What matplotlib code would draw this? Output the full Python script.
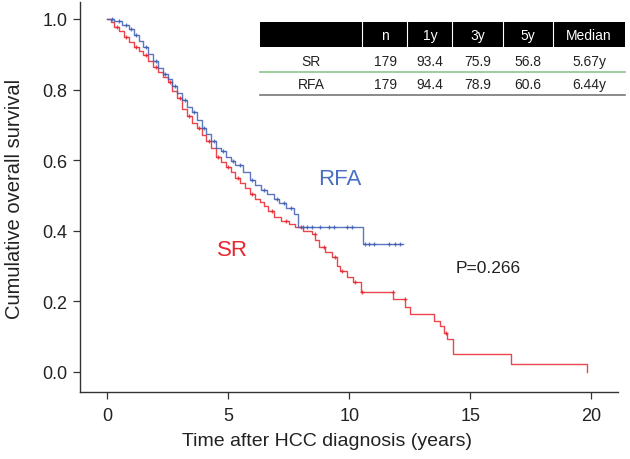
import numpy as np
import matplotlib
matplotlib.use("Agg")
import matplotlib.pyplot as plt
from matplotlib.patches import Rectangle
from matplotlib.lines import Line2D

plt.rcParams["font.family"] = ["Liberation Sans", "DejaVu Sans"]

# ------------------------------------------------------------------
# Data
# ------------------------------------------------------------------

# RFA: step times (years) and survival after each step
rfa_t = [0, 0.3, 0.6, 0.9, 1.1, 1.3, 1.5, 1.7, 1.9, 2.1, 2.3, 2.5, 2.7, 2.9, 3.1,
         3.3, 3.5, 3.7, 3.9, 4.1, 4.3, 4.5, 4.7, 4.9, 5.1, 5.3, 5.6, 5.9, 6.1, 6.35,
         6.6, 6.9, 7.1, 7.4, 7.7, 7.9, 10.55]
rfa_s = [1.0, 0.994, 0.983, 0.972, 0.955, 0.938, 0.921, 0.90, 0.88, 0.86, 0.845, 0.83,
         0.81, 0.79, 0.77, 0.75, 0.735, 0.715, 0.69, 0.675, 0.655, 0.635, 0.625, 0.61,
         0.598, 0.585, 0.565, 0.545, 0.53, 0.515, 0.505, 0.49, 0.478, 0.465, 0.448,
         0.411, 0.363]
rfa_end = 12.2
rfa_cens = [0.2, 0.5, 0.8, 1.0, 1.2, 1.6, 2.0, 2.4, 2.8, 3.2, 3.6, 4.0, 4.4, 4.8, 5.2,
            5.5, 6.0, 6.5, 7.0, 7.3, 7.6, 8.1, 8.24, 8.45, 8.78, 9.16, 9.37, 9.91,
            10.12, 10.66, 10.82, 11.03, 11.66, 11.87, 12.08]

# SR
sr_t = [0, 0.15, 0.3, 0.5, 0.7, 0.9, 1.1, 1.3, 1.5, 1.7, 1.9, 2.1, 2.3, 2.5, 2.7, 2.9,
        3.1, 3.3, 3.5, 3.7, 3.9, 4.1, 4.3, 4.5, 4.7, 4.9, 5.1, 5.3, 5.5, 5.7, 5.9,
        6.1, 6.3, 6.5, 6.65, 6.9, 7.2, 7.5, 7.75, 8.1, 8.45, 8.6, 8.75, 9.0, 9.3,
        9.5, 9.6, 9.9, 10.15, 10.5, 11.8, 12.3, 12.5, 13.5, 13.75, 13.9, 14.05,
        14.3, 16.7, 19.8]
sr_s = [1.0, 0.99, 0.977, 0.965, 0.95, 0.935, 0.921, 0.91, 0.898, 0.881, 0.865, 0.85,
        0.835, 0.82, 0.795, 0.775, 0.745, 0.725, 0.705, 0.69, 0.672, 0.655, 0.635,
        0.61, 0.595, 0.58, 0.565, 0.55, 0.535, 0.52, 0.505, 0.49, 0.48, 0.47, 0.455,
        0.44, 0.428, 0.418, 0.411, 0.40, 0.391, 0.375, 0.354, 0.34, 0.326, 0.30,
        0.286, 0.27, 0.255, 0.227, 0.207, 0.185, 0.164, 0.145, 0.13, 0.11, 0.093,
        0.051, 0.023, 0.0]
sr_end = 19.8
sr_cens = [0.4, 0.8, 1.2, 1.6, 2.0, 2.6, 3.0, 3.4, 3.8, 4.2, 4.6, 5.0, 5.4, 6.0, 6.8,
           7.4, 8.0, 8.58, 8.95, 9.41, 9.70, 10.25, 10.53, 11.79, 12.29, 14.0]

# summary table
col_labels = ["", "n", "1y", "3y", "5y", "Median"]
row_sr = ["SR", "179", "93.4", "75.9", "56.8", "5.67y"]
row_rfa = ["RFA", "179", "94.4", "78.9", "60.6", "6.44y"]

RED = "#E8262E"
BLUE = "#3F5FB5"


def step_val(ts, ss, x):
    i = np.searchsorted(np.asarray(ts), x, side="right") - 1
    return np.asarray(ss)[i]


# ------------------------------------------------------------------
# Plot
# ------------------------------------------------------------------

fig = plt.figure(figsize=(6.3, 4.6), dpi=100)
ax = fig.add_axes([80 / 630, 67 / 460, 538 / 630, 390 / 460])

for ts, ss, end, cens, col in [(sr_t, sr_s, sr_end, sr_cens, RED),
                               (rfa_t, rfa_s, rfa_end, rfa_cens, BLUE)]:
    xs = list(ts) + [end]
    ys = list(ss) + [ss[-1]]
    ax.step(xs, ys, where="post", color=col, lw=1.0, alpha=0.85)
    ax.plot(cens, step_val(ts, ss, cens), ls="none", marker="+", ms=3.5,
            mew=0.9, color=col, alpha=0.85)

ax.set_xlim(-1.12, 21.1)
ax.set_ylim(-0.057, 1.048)
ax.set_xticks([0, 5, 10, 15, 20])
ax.set_yticks([0.0, 0.2, 0.4, 0.6, 0.8, 1.0])
ax.set_yticklabels(["0.0", "0.2", "0.4", "0.6", "0.8", "1.0"])
for s in ["top", "right"]:
    ax.spines[s].set_visible(False)
for s in ["left", "bottom"]:
    ax.spines[s].set_color("#333333")
    ax.spines[s].set_linewidth(1.0)
ax.tick_params(direction="out", length=5, width=0.9, colors="#333333",
               labelsize=13, labelcolor="#222222", pad=4)
ax.tick_params(axis="x", pad=6)
ax.set_xlabel("Time after HCC diagnosis (years)", fontsize=14, color="#222222")
ax.set_ylabel("Cumulative overall survival", fontsize=14.5, color="#222222")
ax.xaxis.set_label_coords(0.459, -0.103)
ax.yaxis.set_label_coords(-0.105, 0.497)

ax.text(9.63, 0.547, "RFA", color="#4A6FC2", fontsize=16, ha="center", va="center")
ax.text(5.17, 0.348, "SR", color=RED, fontsize=16, ha="center", va="center")
ax.text(15.74, 0.297, "P=0.266", color="#222222", fontsize=12.5, ha="center", va="center")

# table drawn in figure pixel coordinates
W, H = 630, 460
def fx(px):
    return px / W
def fy(py):
    return 1 - py / H

fig.add_artist(Rectangle((fx(260), fy(48)), fx(625) - fx(260), fy(23) - fy(48),
                         facecolor="black", edgecolor="none"))
seps = [362, 407, 452, 503, 553]
for sx in seps:
    fig.add_artist(Line2D([fx(sx), fx(sx)], [fy(23), fy(48)], color="white", lw=0.8))
fig.add_artist(Line2D([fx(260), fx(625)], [fy(73), fy(73)], color="#8CC68C", lw=1.2))
fig.add_artist(Line2D([fx(260), fx(625)], [fy(96), fy(96)], color="#777777", lw=1.2))

centers = [311, 385, 430, 478, 528, 589]
for cx, lab in zip(centers, col_labels):
    fig.text(fx(cx), fy(36), lab, color="white", fontsize=10, ha="center", va="center")
for cx, lab in zip(centers, row_sr):
    fig.text(fx(cx), fy(62), lab, color="#222222", fontsize=10, ha="center", va="center")
for cx, lab in zip(centers, row_rfa):
    fig.text(fx(cx), fy(85), lab, color="#222222", fontsize=10, ha="center", va="center")

fig.savefig("out.png", dpi=100)
